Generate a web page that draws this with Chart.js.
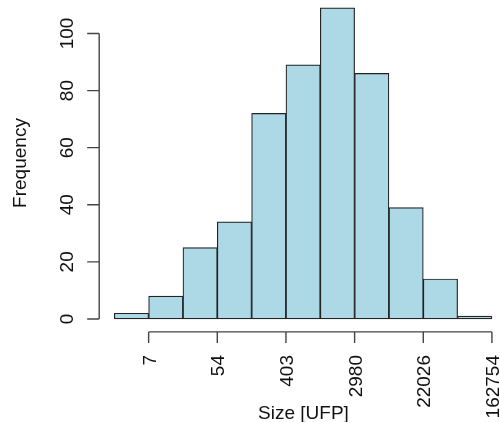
<!DOCTYPE html>
<html>
<head>
<meta charset="utf-8">
<script src="https://cdn.jsdelivr.net/npm/chart.js@4"></script>
<style>
  html, body { margin: 0; padding: 0; background: #fff; }
  #wrap { width: 500px; height: 422px; }
</style>
</head>
<body>
<div id="wrap"><canvas id="myChart" width="500" height="422"></canvas></div>
<script>
// bins are on the natural log of the size, width 1
const binEdges = [1, 2, 3, 4, 5, 6, 7, 8, 9, 10, 11, 12];
const counts = [2, 8, 25, 34, 72, 89, 109, 86, 39, 14, 1];
const xTickPos = [2, 4, 6, 8, 10, 12];
const xTickLabels = ['7', '54', '403', '2980', '22026', '162754'];
const yTicks = [0, 20, 40, 60, 80, 100];

const barData = counts.map((c, i) => ({ x: (binEdges[i] + binEdges[i + 1]) / 2, y: c }));

const FONT = '19px "Liberation Sans", Arial, sans-serif';

// R-style axes: line only spans the ticks
const rAxes = {
  id: 'rAxes',
  afterDraw(chart) {
    const { ctx, chartArea, scales: { x, y } } = chart;
    ctx.save();
    ctx.strokeStyle = '#444';
    ctx.lineWidth = 1.4;

    const ax = chartArea.left;
    ctx.beginPath();
    ctx.moveTo(ax, y.getPixelForValue(yTicks[0]));
    ctx.lineTo(ax, y.getPixelForValue(yTicks[yTicks.length - 1]));
    yTicks.forEach(v => {
      const py = y.getPixelForValue(v);
      ctx.moveTo(ax - 12, py);
      ctx.lineTo(ax, py);
    });
    const ay = chartArea.bottom + 0.5;
    ctx.moveTo(x.getPixelForValue(xTickPos[0]), ay);
    ctx.lineTo(x.getPixelForValue(xTickPos[xTickPos.length - 1]), ay);
    xTickPos.forEach(v => {
      const px = x.getPixelForValue(v);
      ctx.moveTo(px, ay);
      ctx.lineTo(px, ay + 11);
    });
    ctx.stroke();

    ctx.fillStyle = '#111';
    ctx.font = FONT;
    ctx.textBaseline = 'alphabetic';

    yTicks.forEach(v => {
      ctx.save();
      ctx.translate(73, y.getPixelForValue(v));
      ctx.rotate(-Math.PI / 2);
      ctx.textAlign = 'center';
      ctx.fillText(String(v), 0, 0);
      ctx.restore();
    });

    xTickPos.forEach((v, i) => {
      ctx.save();
      ctx.translate(x.getPixelForValue(v) + 7, 355);
      ctx.rotate(-Math.PI / 2);
      ctx.textAlign = 'right';
      ctx.fillText(xTickLabels[i], 0, 0);
      ctx.restore();
    });

    ctx.save();
    ctx.translate(25.5, 163);
    ctx.rotate(-Math.PI / 2);
    ctx.textAlign = 'center';
    ctx.fillText('Frequency', 0, 0);
    ctx.restore();

    ctx.textAlign = 'center';
    ctx.fillText('Size [UFP]', 303.5, 419);
    ctx.restore();
  }
};

const ctx = document.getElementById('myChart').getContext('2d');

new Chart(ctx, {
  type: 'bar',
  data: {
    datasets: [{
      data: barData,
      backgroundColor: '#ADD8E6',
      borderColor: '#222',
      borderWidth: 1.2,
      borderSkipped: false,
      barPercentage: 1,
      categoryPercentage: 1
    }]
  },
  options: {
    responsive: false,
    animation: false,
    layout: { padding: { left: 99.2, top: 0, right: 0, bottom: 90.6 } },
    plugins: { legend: { display: false }, tooltip: { enabled: false } },
    scales: {
      x: { type: 'linear', display: false, offset: false, min: 0.56, max: 12.235 },
      y: { display: false, min: -4.36, max: 111.73 }
    }
  },
  plugins: [rAxes]
});
</script>
</body>
</html>
